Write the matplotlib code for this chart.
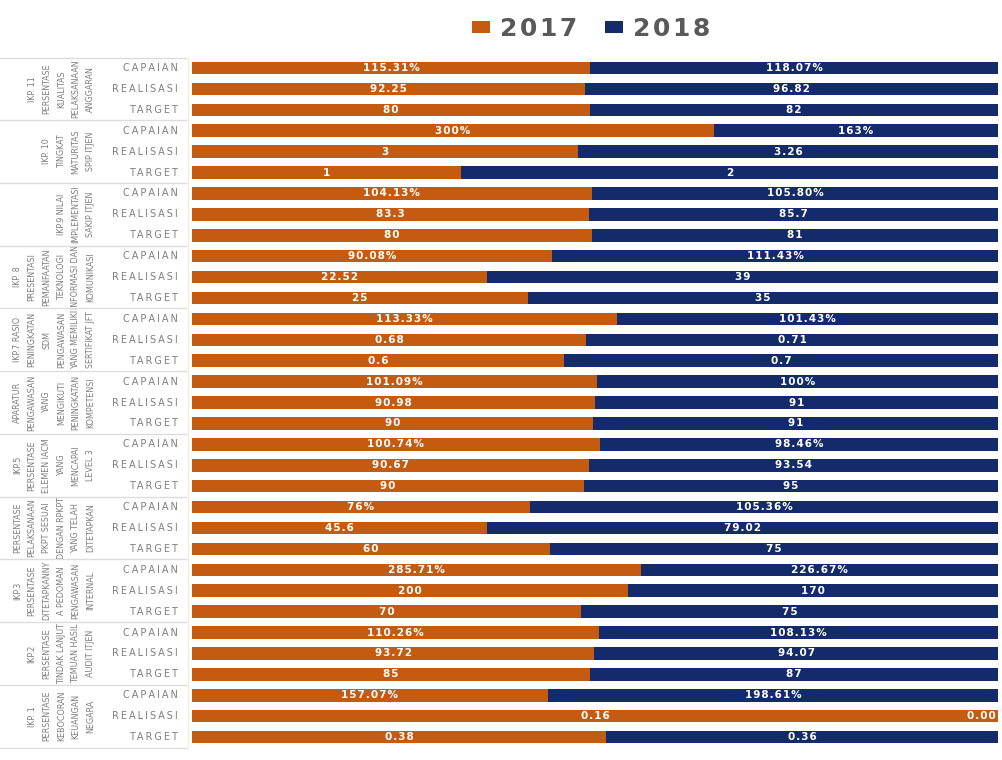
import matplotlib
matplotlib.use("Agg")
import matplotlib.pyplot as plt
from matplotlib.lines import Line2D
from matplotlib.patches import Patch
from matplotlib.transforms import blended_transform_factory
from matplotlib import font_manager
import numpy as np

groups = [
    "IKP. 11\nPERSENTASE\nKUALITAS\nPELAKSANAAN\nANGGARAN",
    "IKP. 10\nTINGKAT\nMATURITAS\nSPIP ITJEN",
    "IKP.9 NILAI\nIMPLEMENTASI\nSAKIP ITJEN",
    "IKP. 8\nPRESENTASI\nPEMANFAATAN\nTEKNOLOGI\nINFORMASI DAN\nKOMUNIKASI",
    "IKP.7 RASIO\nPENINGKATAN\nSDM\nPENGAWASAN\nYANG MEMILIKI\nSERTIFIKAT JFT",
    "APARATUR\nPENGAWASAN\nYANG\nMENGIKUTI\nPENINGKATAN\nKOMPETENSI",
    "IKP.5\nPERSENTASE\nELEMEN IACM\nYANG\nMENCAPAI\nLEVEL 3",
    "PERSENTASE\nPELAKSANAAN\nPKPT SESUAI\nDENGAN RPKPT\nYANG TELAH\nDITETAPKAN",
    "IKP.3\nPERSENTASE\nDITETAPKANNY\nA PEDOMAN\nPENGAWASAN\nINTERNAL",
    "IKP.2\nPERSENTASE\nTINDAK LANJUT\nTEMUAN HASIL\nAUDIT ITJEN",
    "IKP. 1\nPERSENTASE\nKEBOCORAN\nKEUANGAN\nNEGARA",
]
subcats = ["CAPAIAN", "REALISASI", "TARGET"]

capaian_2017 = ["115.31%", "300%", "104.13%", "90.08%", "113.33%", "101.09%", "100.74%", "76%", "285.71%", "110.26%", "157.07%"]
capaian_2018 = ["118.07%", "163%", "105.80%", "111.43%", "101.43%", "100%", "98.46%", "105.36%", "226.67%", "108.13%", "198.61%"]
realisasi_2017 = ["92.25", "3", "83.3", "22.52", "0.68", "90.98", "90.67", "45.6", "200", "93.72", "0.16"]
realisasi_2018 = ["96.82", "3.26", "85.7", "39", "0.71", "91", "93.54", "79.02", "170", "94.07", "0.00"]
target_2017 = ["80", "1", "80", "25", "0.6", "90", "90", "60", "70", "85", "0.38"]
target_2018 = ["82", "2", "81", "35", "0.7", "91", "95", "75", "75", "87", "0.36"]

series_names = ["2017", "2018"]
colors = ["#C55A11", "#132B6A"]

# pick a narrow font for the rotated group labels
names = {(f.name, f.stretch) for f in font_manager.fontManager.ttflist}
fam_names = {n for n, s in names}
if "Liberation Sans Narrow" in fam_names:
    gfont = dict(family="Liberation Sans Narrow", size=7)
elif ("DejaVu Sans", "condensed") in names or ("DejaVu Sans", "semi-condensed") in names:
    gfont = dict(family="DejaVu Sans", stretch="condensed", size=6.4)
elif "Roboto Condensed" in fam_names:
    gfont = dict(family="Roboto Condensed", size=6.8)
else:
    gfont = dict(family="Liberation Sans", size=6.2)

# build rows top->bottom
lab17, lab18 = [], []
for i in range(len(groups)):
    lab17 += [capaian_2017[i], realisasi_2017[i], target_2017[i]]
    lab18 += [capaian_2018[i], realisasi_2018[i], target_2018[i]]
v17 = np.array([float(s.rstrip('%')) for s in lab17])
v18 = np.array([float(s.rstrip('%')) for s in lab18])
tot = v17 + v18
p17 = v17 / tot
p18 = v18 / tot

W, H = 1002, 760
fig = plt.figure(figsize=(W / 100, H / 100), dpi=100)
fig.patch.set_facecolor("white")
top_px, bot_px = 57.5, 747.5
ax = fig.add_axes([192 / W, 1 - bot_px / H, (998 - 192) / W, (bot_px - top_px) / H])

n = len(lab17)
y = np.arange(n)
ax.barh(y, p17, height=0.6, color=colors[0], label=series_names[0])
ax.barh(y, p18, left=p17, height=0.6, color=colors[1], label=series_names[1])
ax.set_xlim(0, 1)
ax.set_ylim(n - 0.5, -0.5)
ax.axis("off")

vfont = dict(color="white", fontsize=7.5, fontweight="bold", family="DejaVu Sans")
def spaced(s, sep="\u200a"):
    return sep.join(s)
for i in range(n):
    ax.text(p17[i] / 2, y[i], spaced(lab17[i]), ha="center", va="center", **vfont)
    if p18[i] > 0:
        ax.text(p17[i] + p18[i] / 2, y[i], spaced(lab18[i]), ha="center", va="center", **vfont)
    else:
        ax.text(0.997, y[i], spaced(lab18[i]), ha="right", va="center", **vfont)

tr = blended_transform_factory(fig.transFigure, ax.transData)
# separators
for k in range(len(groups) + 1):
    yy = 3 * k - 0.5
    fig.add_artist(Line2D([0, 186 / W], [yy, yy], transform=tr, color="#DDDDDD", lw=1))
fig.add_artist(Line2D([188 / W, 188 / W], [-0.5, n - 0.5], transform=tr, color="#FBEBD5", lw=1))

# subcategory labels
for i in range(n):
    ax.text(178 / W, y[i], spaced(subcats[i % 3], "\u2009"), transform=tr, ha="right", va="center",
            fontsize=7, color="#7F7F7F", family="DejaVu Sans")

# group labels
for g, name in enumerate(groups):
    ax.text(95 / W, 3 * g + 1, name, transform=tr, rotation=90, ha="right", va="center",
            multialignment="center", color="#7F7F7F", linespacing=1.8, fontproperties=
            font_manager.FontProperties(**gfont))

handles = [Patch(facecolor=c, edgecolor="none") for c in colors]
leg = fig.legend(handles, [spaced(s) for s in series_names], loc="center",
                 bbox_to_anchor=(591 / W, 1 - 29 / H),
                 ncol=2, frameon=False, handletextpad=0.4, columnspacing=1.1,
                 handlelength=0.72, handleheight=0.4,
                 prop=dict(size=18, weight="bold", family="DejaVu Sans"))
for t in leg.get_texts():
    t.set_color("#595959")

fig.savefig("out.png", dpi=100, facecolor="white")
